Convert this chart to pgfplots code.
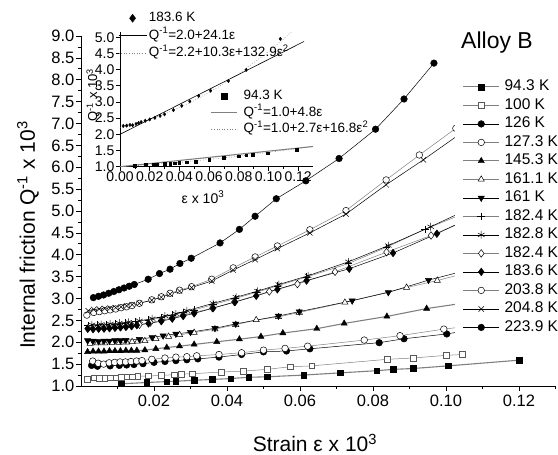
\documentclass[border=0pt]{standalone}
\usepackage{fontspec}
\setmainfont{Liberation Sans}
\usepackage{pgfplots}
\pgfplotsset{compat=1.18}
\definecolor{lg}{gray}{0.5}
\definecolor{dg}{gray}{0.35}
\pgfplotsset{
 mainleg/.style={legend image code/.code={\draw[mark repeat=2,mark phase=2,##1] plot coordinates {(0pt,0pt) (17.8pt,0pt) (35.6pt,0pt)};}},
 insetmarkA/.style={legend image code/.code={\draw[##1, mark size=2.8pt] plot coordinates {(13pt,0pt)};}},
 insetlineA/.style={legend image code/.code={\draw[##1] (0pt,0pt) -- (26pt,0pt);}},
 insetmarkB/.style={legend image code/.code={\draw[##1, mark size=4pt] plot coordinates {(14pt,0pt)};}},
 insetlineB/.style={legend image code/.code={\draw[##1] (0pt,0pt) -- (28pt,0pt);}},
}
\begin{document}
\begin{tikzpicture}[x=1pt,y=1pt]
\path[use as bounding box] (0,0) rectangle (558,455);
% ---------------- main axis
\begin{axis}[
 at={(81pt,69pt)}, anchor=south west, scale only axis, width=474.5pt, height=350pt,
 xmin=0, xmax=0.13, ymin=1, ymax=9,
 axis x line*=bottom, axis y line*=left,
 axis line style={line width=0.8pt},
 tick align=outside, major tick length=5pt, minor tick length=3pt,
 tick style={line width=0.7pt, black},
 xtick={0.02,0.04,0.06,0.08,0.10,0.12},
 minor xtick={0.01,0.03,0.05,0.07,0.09,0.11,0.13},
 ytick={1,1.5,2,2.5,3,3.5,4,4.5,5,5.5,6,6.5,7,7.5,8,8.5,9},
 minor ytick={1.25,1.75,2.25,2.75,3.25,3.75,4.25,4.75,5.25,5.75,6.25,6.75,7.25,7.75,8.25,8.75},
 /pgf/number format/assume math mode=true,
 tick label style={font=\fontsize{16.5}{19}\selectfont},
 xticklabel style={/pgf/number format/fixed,/pgf/number format/fixed zerofill,/pgf/number format/precision=2, /tikz/inner sep=4pt},
 yticklabel style={/pgf/number format/fixed,/pgf/number format/fixed zerofill,/pgf/number format/precision=1, /tikz/inner sep=1.5pt},
 xlabel={Strain ε x 10\textsuperscript{3}},
 xlabel style={at={(axis description cs:0.493,-0.163)}, anchor=center, font=\fontsize{21}{25}\selectfont},
 ylabel={Internal friction Q\textsuperscript{-1} x 10\textsuperscript{3}},
 ylabel style={at={(axis description cs:-0.1117,0.431)}, anchor=center, font=\fontsize{21}{25}\selectfont},
 mainleg,
 legend cell align=left,
 legend style={at={(0.7882,0.8836)}, anchor=north west, draw=none, fill=white,
   inner xsep=7.7pt, inner ysep=3pt, font=\fontsize{15.5}{18}\selectfont, row sep=4.5pt,
   nodes={inner sep=0pt, text height=11pt, text depth=3pt},
   /tikz/every odd column/.append style={column sep=5pt}},
 every axis plot/.append style={line width=0.5pt},
]
% 94.3 K
\addplot[lg, line width=1.1pt, mark=square*, mark size=2.8pt, mark options={solid,fill=black,draw=black,line width=0.4pt}] coordinates {
(0.011,1.05)(0.018,1.08)(0.0235,1.10)(0.026,1.11)(0.031,1.13)(0.036,1.15)(0.041,1.17)(0.046,1.20)(0.051,1.21)(0.061,1.25)(0.071,1.30)(0.081,1.35)(0.0856,1.38)(0.091,1.40)(0.1006,1.46)(0.12,1.59)};
\addlegendentry{94.3 K}
% 100 K
\addplot[lg, mark=square*, mark size=2.8pt, mark options={solid,fill=white,draw=dg,line width=0.5pt}] coordinates {
(0.0017,1.16)(0.0035,1.19)(0.005,1.18)(0.0065,1.18)(0.008,1.19)(0.0095,1.19)(0.011,1.20)(0.0125,1.21)(0.014,1.21)(0.0155,1.22)(0.0185,1.23)(0.022,1.24)(0.0255,1.26)(0.0275,1.27)(0.0305,1.28)(0.0385,1.32)(0.0445,1.34)(0.051,1.38)(0.0573,1.44)(0.0632,1.46)(0.0839,1.61)(0.091,1.64)(0.10,1.70)(0.1045,1.72)};
\addlegendentry{100 K}
% 126 K
\addplot[black, mark=*, mark size=3.3pt, mark options={solid,fill=black}] coordinates {
(0.0029,1.47)(0.0045,1.45)(0.008,1.46)(0.0105,1.47)(0.0125,1.48)(0.0145,1.49)(0.017,1.51)(0.020,1.54)(0.023,1.56)(0.026,1.58)(0.029,1.60)(0.032,1.62)(0.0378,1.66)(0.044,1.72)(0.050,1.78)(0.0563,1.80)(0.0627,1.85)(0.0817,1.99)(0.0885,2.08)(0.1002,2.19)(0.1045,2.25)};
\addlegendentry{126 K}
% 127.3 K
\addplot[lg, mark=*, mark size=3.3pt, mark options={solid,fill=white,draw=black}] coordinates {
(0.0032,1.57)(0.0047,1.52)(0.0062,1.50)(0.0077,1.53)(0.0092,1.54)(0.0107,1.55)(0.0122,1.55)(0.0137,1.56)(0.0152,1.57)(0.0167,1.58)(0.0194,1.61)(0.023,1.64)(0.026,1.66)(0.029,1.67)(0.0317,1.69)(0.0378,1.72)(0.044,1.76)(0.050,1.82)(0.0559,1.86)(0.0621,1.91)(0.0776,2.05)(0.0874,2.15)(0.0994,2.30)(0.1045,2.35)};
\addlegendentry{127.3 K}
% 145.3 K
\addplot[lg, line width=1.1pt, mark=triangle*, mark size=3.6pt, mark options={solid,fill=black,draw=black,line width=0.4pt}] coordinates {
(0.0018,1.78)(0.0033,1.79)(0.0048,1.79)(0.0063,1.79)(0.0078,1.80)(0.0093,1.80)(0.0108,1.80)(0.0123,1.81)(0.0138,1.81)(0.0153,1.81)(0.0175,1.82)(0.0205,1.85)(0.0235,1.88)(0.027,1.91)(0.031,1.95)(0.0372,2.01)(0.0434,2.07)(0.0493,2.13)(0.0553,2.21)(0.0646,2.31)(0.0721,2.43)(0.0838,2.59)(0.0947,2.77)(0.1045,2.89)};
\addlegendentry{145.3 K}
% 161.1 K
\addplot[lg, mark=triangle*, mark size=3.6pt, mark options={solid,fill=white,draw=black}] coordinates {
(0.0025,1.97)(0.0045,1.98)(0.0065,1.98)(0.0085,1.99)(0.0105,1.99)(0.0125,2.00)(0.014,2.01)(0.0155,2.02)(0.0175,2.03)(0.0205,2.08)(0.024,2.13)(0.027,2.17)(0.031,2.22)(0.0367,2.30)(0.0424,2.40)(0.048,2.51)(0.0541,2.58)(0.0598,2.68)(0.0723,2.91)(0.0892,3.25)(0.0976,3.41)(0.1045,3.56)};
\addlegendentry{161.1 K}
% 161 K
\addplot[black, mark=triangle*, mark size=3.6pt, mark options={solid,fill=black,rotate=180}] coordinates {
(0.0018,2.04)(0.0033,2.03)(0.0048,2.02)(0.0063,2.03)(0.0078,2.03)(0.0093,2.04)(0.0108,2.04)(0.0123,2.05)(0.016,2.07)(0.0195,2.11)(0.0225,2.15)(0.026,2.19)(0.030,2.23)(0.0367,2.32)(0.0424,2.42)(0.0541,2.60)(0.0598,2.70)(0.0743,2.95)(0.0842,3.14)(0.0952,3.42)(0.1045,3.62)};
\addlegendentry{161 K}
% 182.4 K (+)
\addplot[lg, mark=+, mark size=3.8pt, mark options={solid,draw=black}] coordinates {
(0.002,2.38)(0.0045,2.39)(0.007,2.40)(0.0095,2.42)(0.012,2.44)(0.015,2.47)(0.0185,2.51)(0.022,2.56)(0.025,2.62)(0.028,2.68)(0.031,2.74)(0.0362,2.86)(0.0422,3.0)(0.048,3.14)(0.0538,3.29)(0.0618,3.49)(0.0733,3.80)(0.0837,4.17)(0.0942,4.58)(0.1045,4.93)};
\addlegendentry{182.4 K}
% 182.8 K (*)
\addplot[black, mark=asterisk, mark size=3.8pt, mark options={solid}] coordinates {
(0.003,2.40)(0.0055,2.41)(0.008,2.42)(0.0105,2.44)(0.013,2.46)(0.016,2.49)(0.0195,2.54)(0.023,2.60)(0.026,2.65)(0.029,2.72)(0.0362,2.89)(0.0425,3.03)(0.0484,3.17)(0.0542,3.32)(0.0622,3.52)(0.0733,3.84)(0.0842,4.21)(0.0958,4.64)(0.1045,4.98)};
\addlegendentry{182.8 K}
% 182.4 K (open diamond)
\addplot[lg, mark=diamond*, mark size=3.8pt, mark options={solid,fill=white,draw=black}] coordinates {
(0.002,2.32)(0.0035,2.33)(0.005,2.33)(0.0065,2.34)(0.008,2.35)(0.0095,2.35)(0.011,2.36)(0.0125,2.37)(0.014,2.38)(0.016,2.40)(0.019,2.45)(0.022,2.50)(0.025,2.56)(0.028,2.62)(0.031,2.68)(0.036,2.78)(0.042,2.92)(0.0516,3.16)(0.0593,3.33)(0.0696,3.61)(0.0837,4.06)(0.0959,4.44)(0.1045,4.74)};
\addlegendentry{182.4 K}
% 183.6 K
\addplot[black, mark=diamond*, mark size=3.8pt, mark options={solid,fill=black}] coordinates {
(0.0018,2.31)(0.0033,2.30)(0.0048,2.31)(0.0063,2.31)(0.0078,2.32)(0.0093,2.33)(0.0108,2.34)(0.0123,2.35)(0.0138,2.37)(0.0153,2.39)(0.0185,2.43)(0.022,2.48)(0.025,2.54)(0.028,2.60)(0.031,2.66)(0.0362,2.78)(0.0422,2.92)(0.048,3.06)(0.0538,3.21)(0.0618,3.41)(0.0735,3.68)(0.0855,4.04)(0.0975,4.48)(0.1045,4.76)};
\addlegendentry{183.6 K}
% 203.8 K
\addplot[lg, mark=*, mark size=3.3pt, mark options={solid,fill=white,draw=black}] coordinates {
(0.0016,2.62)(0.0035,2.68)(0.005,2.70)(0.0065,2.72)(0.008,2.74)(0.0095,2.76)(0.011,2.79)(0.0125,2.81)(0.014,2.84)(0.016,2.89)(0.0194,2.97)(0.022,3.04)(0.0244,3.12)(0.027,3.19)(0.0303,3.27)(0.0358,3.44)(0.0417,3.70)(0.0477,3.95)(0.0538,4.20)(0.0627,4.57)(0.0726,5.01)(0.0836,5.71)(0.0927,6.28)(0.1027,6.89)};
\addlegendentry{203.8 K}
% 204.8 K
\addplot[black, mark=x, mark size=3.8pt, mark options={solid}] coordinates {
(0.002,2.72)(0.0035,2.75)(0.005,2.76)(0.0065,2.77)(0.008,2.78)(0.0095,2.79)(0.011,2.81)(0.0125,2.83)(0.014,2.86)(0.016,2.89)(0.0194,2.96)(0.022,3.03)(0.0244,3.10)(0.027,3.17)(0.0303,3.25)(0.0358,3.40)(0.0417,3.65)(0.0477,3.89)(0.0538,4.14)(0.0627,4.50)(0.0726,4.93)(0.0836,5.60)(0.0938,6.17)(0.1045,6.80)};
\addlegendentry{204.8 K}
% 223.9 K
\addplot[black, mark=*, mark size=3.3pt, mark options={solid,fill=black}] coordinates {
(0.0034,3.02)(0.0048,3.05)(0.0062,3.08)(0.0076,3.12)(0.009,3.16)(0.0104,3.20)(0.0118,3.24)(0.0132,3.28)(0.0146,3.32)(0.0184,3.44)(0.0215,3.57)(0.0244,3.67)(0.0271,3.80)(0.0302,3.92)(0.0381,4.27)(0.0434,4.58)(0.0477,4.88)(0.0535,5.28)(0.0616,5.69)(0.0707,6.20)(0.0807,6.87)(0.0885,7.56)(0.0967,8.38)};
\addlegendentry{223.9 K}
\end{axis}
\node[font=\fontsize{23}{27}\selectfont, anchor=center] at (497,412.3) {Alloy B};
% ---------------- inset axis A (94.3 K)
\begin{axis}[
 at={(120pt,288.3pt)}, anchor=south west, scale only axis, width=193pt, height=134.3pt,
 xmin=0, xmax=0.13, ymin=1, ymax=5.15,
 axis x line*=bottom, axis y line*=left,
 axis line style={line width=0.7pt},
 tick align=outside, major tick length=4pt, minor tick length=2.5pt,
 tick style={line width=0.6pt, black},
 xtick={0,0.02,0.04,0.06,0.08,0.10,0.12},
 minor xtick={0.01,0.03,0.05,0.07,0.09,0.11},
 ytick={1,1.5,2,2.5,3,3.5,4,4.5,5},
 /pgf/number format/assume math mode=true,
 tick label style={font=\fontsize{14}{16}\selectfont},
 xticklabel style={/pgf/number format/fixed,/pgf/number format/fixed zerofill,/pgf/number format/precision=2, /tikz/inner sep=1pt},
 yticklabel style={/pgf/number format/fixed,/pgf/number format/fixed zerofill,/pgf/number format/precision=1, /tikz/inner sep=1.5pt},
 xlabel={ε x 10\textsuperscript{3}},
 xlabel style={at={(axis description cs:0.43,-0.226)}, anchor=center, font=\fontsize{14}{16}\selectfont},
 ylabel={Q\textsuperscript{-1} x 10\textsuperscript{3}},
 ylabel style={at={(axis description cs:-0.14,0.534)}, anchor=center, font=\fontsize{13}{15}\selectfont},
 legend cell align=left,
 legend style={at={(0.47,0.577)}, anchor=north west, draw=none, fill=none, inner sep=0pt,
   font=\fontsize{13.5}{15}\selectfont, row sep=3.2pt,
   nodes={inner sep=0pt, text height=10pt, text depth=3.5pt},
   /tikz/every odd column/.append style={column sep=5.6pt}},
]
\addplot[only marks, mark=square*, mark size=1.3pt, mark options={fill=black}, insetmarkA] coordinates {
(0.010,1.03)(0.0173,1.06)(0.0225,1.07)(0.025,1.08)(0.030,1.09)(0.0337,1.10)(0.037,1.11)(0.040,1.12)(0.045,1.14)(0.051,1.15)(0.060,1.22)(0.070,1.28)(0.080,1.32)(0.085,1.35)(0.0895,1.37)(0.0996,1.42)(0.119,1.53)};
\addlegendentry{94.3 K}
\addplot[lg, line width=1.1pt, insetlineA] coordinates {(0,1.0)(0.13,1.624)};
\addlegendentry{Q\textsuperscript{-1}=1.0+4.8ε}
\addplot[lg, dotted, line width=0.6pt, insetlineA] coordinates {(0,1.0)(0.02,1.0607)(0.04,1.1349)(0.06,1.2225)(0.08,1.3235)(0.10,1.438)(0.12,1.566)(0.13,1.635)};
\addlegendentry{Q\textsuperscript{-1}=1.0+2.7ε+16.8ε\textsuperscript{2}}
\end{axis}
% ---------------- inset axis B (183.6 K)
\begin{axis}[
 at={(120pt,288.3pt)}, anchor=south west, scale only axis, width=193pt, height=134.3pt,
 xmin=0, xmax=0.13, ymin=1, ymax=5.15, hide axis,
 legend cell align=left,
 legend style={at={(-0.01,1.157)}, anchor=north west, draw=none, fill=none, inner sep=0pt,
   font=\fontsize{13.5}{15}\selectfont, row sep=4pt,
   nodes={inner sep=0pt, text height=10pt, text depth=3.5pt},
   /tikz/every odd column/.append style={column sep=2pt}},
]
\addplot[only marks, mark=diamond*, mark size=1.7pt, mark options={fill=black}, insetmarkB] coordinates {
(0.0022,2.26)(0.0045,2.27)(0.0067,2.29)(0.0085,2.28)(0.0108,2.32)(0.0125,2.35)(0.0142,2.38)(0.017,2.42)(0.020,2.46)(0.0235,2.51)(0.027,2.57)(0.030,2.62)(0.036,2.75)(0.0416,2.88)(0.047,3.02)(0.053,3.19)(0.061,3.35)(0.073,3.65)(0.085,3.99)(0.108,4.95)};
\addlegendentry{183.6 K}
\addplot[black, line width=0.6pt, insetlineB] coordinates {(0,2.0)(0.124,4.87)};
\addlegendentry{Q\textsuperscript{-1}=2.0+24.1ε}
\addplot[lg, dotted, line width=0.6pt, insetlineB] coordinates {(0,2.2)(0.01,2.316)(0.02,2.459)(0.03,2.629)(0.04,2.825)(0.05,3.047)(0.06,3.296)(0.07,3.572)(0.08,3.875)(0.09,4.203)(0.10,4.559)(0.11,4.941)(0.12,5.350)};
\addlegendentry{Q\textsuperscript{-1}=2.2+10.3ε+132.9ε\textsuperscript{2}}
\end{axis}
\end{tikzpicture}
\end{document}
